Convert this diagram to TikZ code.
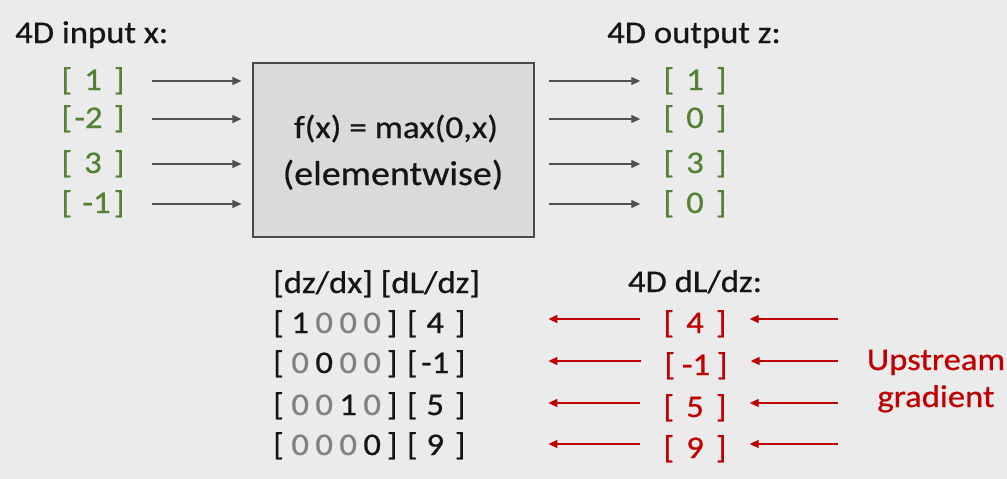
\documentclass[tikz,border=0pt]{standalone}
\usepackage{fontspec}
\setmainfont{Carlito}[FakeStretch=1.1,FakeBold=0.6]
\usetikzlibrary{arrows.meta}
\definecolor{bg}{HTML}{EBEBEB}
\definecolor{boxfill}{HTML}{DADADA}
\definecolor{boxline}{HTML}{4A4A4A}
\definecolor{gr}{HTML}{548235}
\definecolor{rd}{HTML}{C00000}
\definecolor{zg}{HTML}{808080}
\definecolor{ag}{HTML}{505050}
\definecolor{tx}{HTML}{151515}
\newcommand\dg[1]{\makebox[24pt]{#1}}
\newcommand\gz{\textcolor{zg}{0}}
\newcommand\vb[1]{\makebox[12pt][l]{[}\makebox[39pt]{#1}\makebox[12pt][r]{]}}
\newcommand\mrow[5]{\makebox[15pt][l]{[}\dg{#1}\dg{#2}\dg{#3}\dg{#4}\makebox[16pt]{]}\makebox[4pt]{}\makebox[16pt]{[}\makebox[30pt]{#5}\makebox[20pt]{]}}
\begin{document}
\begin{tikzpicture}[x=1pt,y=-1pt,
  txt/.style={inner sep=0pt, anchor=base, text=tx, font=\fontsize{31.5}{36}\selectfont},
  gtxt/.style={txt, text=gr},
  rtxt/.style={txt, text=rd},
  boxst/.style={draw=boxline, fill=boxfill, line width=1.2pt, minimum width=281pt, minimum height=174pt, inner sep=0pt},
  garr/.style={draw=ag, line width=1.3pt, -{Triangle[length=9pt,width=8pt]}},
  rarr/.style={draw=rd, line width=1.3pt, -{Triangle[length=9pt,width=8pt]}}]
\fill[bg] (0,0) rectangle (1007,479);
\useasboundingbox (0,0) rectangle (1007,479);

% headings
\node[txt, anchor=base west] (hin) at (15,43) {4D input x:};
\node[txt, anchor=base west] (hout) at (607,43) {4D output z:};

% function box
\node[boxst] (f) at (393.5,150) {};
\node[txt, font=\fontsize{32}{36}\selectfont] (f1) at (396,138) {f(x) = max(0,x)};
\node[txt, font=\fontsize{34.5}{38}\selectfont] (f2) at (393,185) {(elementwise)};

% input vector
\node[gtxt] (x1) at (93,90) {\vb{1}};
\node[gtxt] (x2) at (93,128) {\vb{-2\hspace{9pt}}};
\node[gtxt] (x3) at (93,173) {\vb{3}};
\node[gtxt] (x4) at (93,213) {\vb{\hspace{7pt}-1}};

% output vector
\node[gtxt] (z1) at (695,90) {\vb{1}};
\node[gtxt] (z2) at (695,128) {\vb{0}};
\node[gtxt] (z3) at (695,173) {\vb{3}};
\node[gtxt] (z4) at (695,213) {\vb{0}};

\foreach \i in {1,2,3,4}{
  \draw[garr, shorten <=27pt, shorten >=11pt] ([yshift=9pt]x\i.base east) -- ([yshift=9pt]x\i.base east -| f.west);
  \draw[garr, shorten <=14pt, shorten >=23pt] ([yshift=9pt]z\i.base west -| f.east) -- ([yshift=9pt]z\i.base west);
}

% local gradient and upstream gradient
\node[txt, anchor=base west] (mh) at (273,293) {[dz/dx] [dL/dz]};
\node[txt, anchor=base west] (m1) at (273,333) {\mrow{1}{\gz}{\gz}{\gz}{4}};
\node[txt, anchor=base west] (m2) at (273,373) {\mrow{\gz}{0}{\gz}{\gz}{-1}};
\node[txt, anchor=base west] (m3) at (273,415) {\mrow{\gz}{\gz}{1}{\gz}{5}};
\node[txt, anchor=base west] (m4) at (273,455) {\mrow{\gz}{\gz}{\gz}{0}{9}};

\node[txt] (gh) at (695,292) {4D dL/dz:};
\node[rtxt] (g1) at (695,333) {\vb{4}};
\node[rtxt] (g2) at (696,375) {\vb{-1}};
\node[rtxt] (g3) at (695,417) {\vb{5}};
\node[rtxt] (g4) at (695,458) {\vb{9}};

\node[rtxt] (up) at (936,370) {Upstream};
\node[rtxt] (ug) at (936,407) {gradient};

\coordinate (ur) at (838,0);
\foreach \i in {1,2,3,4}{
  \draw[rarr, shorten <=23pt, shorten >=78pt] ([yshift=14pt]g\i.base west) -- ([yshift=14pt]g\i.base west -| m\i.base east);
  \draw[rarr, shorten >=23pt] ([yshift=14pt]g\i.base east -| ur) -- ([yshift=14pt]g\i.base east);
}
\end{tikzpicture}
\end{document}
